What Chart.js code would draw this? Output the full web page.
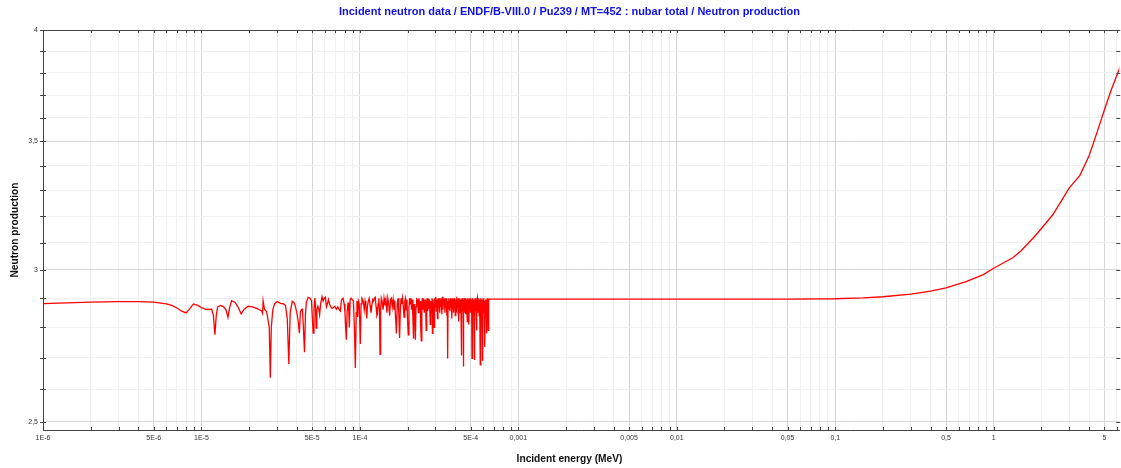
<!DOCTYPE html>
<html>
<head>
<meta charset="utf-8">
<script src="https://cdn.jsdelivr.net/npm/chart.js@4.4.1/dist/chart.umd.min.js"></script>
<style>
  html, body { margin: 0; padding: 0; background: #ffffff; }
  canvas { display: block; }
</style>
</head>
<body>
<canvas id="chart" width="1121" height="468"></canvas>
<script>
// ---- Text ----
const chartTitle = 'Incident neutron data / ENDF/B-VIII.0 / Pu239 / MT=452 : nubar total / Neutron production';
const xAxisTitle = 'Incident energy (MeV)';
const yAxisTitle = 'Neutron production';

// ---- Axis ticks ----
const xTickValues = [1e-6, 5e-6, 1e-5, 5e-5, 1e-4, 5e-4, 1e-3, 5e-3, 1e-2, 5e-2, 1e-1, 5e-1, 1, 5];
const xTickLabels = ['1E-6', '5E-6', '1E-5', '5E-5', '1E-4', '5E-4', '0,001', '0,005', '0,01', '0,05', '0,1', '0,5', '1', '5'];
const xMantissas = [1, 2, 3, 4, 5, 6, 7, 8, 9];
const xDecades = [-6, -5, -4, -3, -2, -1, 0];
const yTickValues = [2.5, 2.6, 2.7, 2.8, 2.9, 3.0, 3.1, 3.2, 3.3, 3.4, 3.5, 3.6, 3.7, 3.8, 3.9, 4.0];
const yLabelValues = [2.5, 3, 3.5, 4];
const yLabelTexts = ['2,5', '3', '3,5', '4'];

// ---- Series: incident energy (eV) and nubar total ----
const energyEV = [
  1.0, 2.0, 3.0, 4.0, 5.0, 6.0, 6.5, 7.0, 7.5, 8.0, 8.4, 8.9, 9.5, 10.0, 10.6, 11.0, 11.6, 11.9, 12.16, 12.4,
  12.65, 13.2, 13.8, 14.3, 14.7, 15.1, 15.5, 16.3, 17.0, 17.8, 18.6, 19.7, 21.0, 22.5, 24.0, 24.3, 24.5, 25.0, 25.8, 26.8,
  27.2, 27.6, 28.2, 28.9, 30.0, 31.5, 33.0, 33.9, 34.8, 35.6, 36.3, 37.4, 38.4, 39.2, 40.0, 40.8, 41.5, 42.1, 42.7, 43.4,
  44.0, 44.7, 45.3, 45.9, 47.1, 48.5, 49.5, 50.0, 50.7, 51.3, 51.9, 52.4, 52.9, 53.5, 54.3, 55.0, 55.7, 56.5, 57.7, 58.6,
  59.5, 60.5, 61.5, 62.3, 63.3, 64.2, 65.5, 66.7, 68.0, 69.5, 71.0, 72.5, 74.0, 75.3, 76.3, 77.1, 78.3, 79.5, 80.5, 81.3,
  82.1, 83.0, 84.2, 85.0, 85.8, 86.8, 88.0, 89.6, 91.0, 92.3, 93.6, 94.8, 95.8, 96.8, 97.8, 99.0, 100.6, 101.8, 103.0, 104.2,
  105.2, 106.5, 107.8, 109.0, 110.5, 111.5, 113.0, 114.5, 116.0, 117.5, 119.0, 120.5, 122.0, 123.5, 125.0, 126.5, 128.0, 129.0, 130.3, 131.6,
  133.0, 134.0, 135.2, 136.5, 138, 140, 142, 144, 146, 148, 150, 152, 154, 156, 158, 160, 162, 164, 166, 168,
  170, 172, 174, 176, 178, 180, 182, 184, 186, 188, 190, 192, 194, 196, 198, 200, 202, 204, 206, 208,
  210, 212, 214, 216, 218, 220, 222, 224, 226, 228, 230, 232, 234, 236, 238, 240, 242, 244, 246, 248,
  250, 252, 255, 258, 260, 262, 264, 266, 268, 270, 273, 275, 278, 280, 283, 285, 287, 289, 292, 294,
  296, 299, 301, 304, 306, 309, 311, 314, 316, 319, 321, 324, 326, 329, 331, 334, 336, 339, 341, 344,
  346, 349, 351, 354, 356, 358, 360, 363, 365, 368, 370, 373, 375, 378, 380, 383, 385, 388, 390, 393,
  395, 398, 400, 403, 405, 408, 410, 413, 415, 418, 420, 423, 425, 428, 430, 433, 435, 437, 439, 441,
  443, 446, 448, 450, 452, 455, 457, 460, 462, 465, 467, 470, 473, 476, 478, 481, 483, 486, 488, 491,
  493, 496, 498, 501, 504, 507, 510, 513, 516, 519, 522, 525, 528, 531, 534, 537, 540, 543, 545, 548,
  551, 554, 557, 560, 563, 566, 569, 572, 575, 578, 581, 584, 587, 590, 593, 595, 598, 601, 604, 607,
  610, 612, 615, 618, 621, 624, 627, 630, 633, 636, 639, 642, 645, 648, 651,
  1000, 1e4, 5e4, 1e5, 1.5e5, 2.0e5, 3.0e5, 4.0e5, 5.0e5, 6.7e5, 8.6e5, 1.0e6, 1.32e6, 1.49e6, 1.86e6, 2.36e6, 3.0e6, 3.5e6, 4.0e6, 4.5e6,
  5.0e6, 5.5e6, 6.3e6, 7.0e6
];
const nubar = [
  2.881, 2.886, 2.888, 2.888, 2.886, 2.880, 2.875, 2.866, 2.855, 2.849, 2.862, 2.880, 2.875, 2.867, 2.862, 2.861, 2.862, 2.840, 2.776, 2.840,
  2.870, 2.875, 2.870, 2.860, 2.834, 2.870, 2.891, 2.885, 2.870, 2.846, 2.862, 2.872, 2.870, 2.864, 2.856, 2.848, 2.890, 2.862, 2.853, 2.800,
  2.636, 2.800, 2.860, 2.880, 2.888, 2.882, 2.880, 2.875, 2.830, 2.680, 2.850, 2.889, 2.885, 2.870, 2.850, 2.820, 2.781, 2.850, 2.860, 2.862,
  2.800, 2.718, 2.840, 2.885, 2.903, 2.900, 2.890, 2.840, 2.781, 2.860, 2.900, 2.880, 2.798, 2.860, 2.872, 2.862, 2.843, 2.880, 2.905, 2.890,
  2.900, 2.903, 2.870, 2.880, 2.895, 2.880, 2.870, 2.865, 2.868, 2.872, 2.862, 2.870, 2.860, 2.855, 2.890, 2.897, 2.900, 2.880, 2.850, 2.800,
  2.759, 2.850, 2.885, 2.860, 2.800, 2.895, 2.900, 2.895, 2.890, 2.800, 2.667, 2.850, 2.890, 2.835, 2.890, 2.880, 2.745, 2.880, 2.900, 2.895,
  2.885, 2.860, 2.890, 2.875, 2.830, 2.870, 2.890, 2.900, 2.875, 2.850, 2.875, 2.895, 2.890, 2.900, 2.903, 2.870, 2.840, 2.845, 2.880, 2.900,
  2.860, 2.711, 2.860, 2.900, 2.890, 2.860, 2.900, 2.875, 2.895, 2.850, 2.900, 2.880, 2.840, 2.895, 2.900, 2.870, 2.895, 2.860, 2.890, 2.830,
  2.780, 2.880, 2.900, 2.850, 2.765, 2.860, 2.900, 2.880, 2.900, 2.870, 2.835, 2.890, 2.900, 2.860, 2.895, 2.820, 2.775, 2.870, 2.900, 2.880,
  2.900, 2.860, 2.895, 2.830, 2.762, 2.880, 2.850, 2.759, 2.870, 2.900, 2.880, 2.895, 2.850, 2.900, 2.870, 2.890, 2.800, 2.755, 2.880, 2.900,
  2.860, 2.900, 2.850, 2.895, 2.870, 2.790, 2.880, 2.900, 2.855, 2.900, 2.865, 2.895, 2.810, 2.890, 2.845, 2.900, 2.780, 2.895, 2.860, 2.800,
  2.900, 2.870, 2.905, 2.855, 2.895, 2.830, 2.900, 2.865, 2.900, 2.850, 2.895, 2.870, 2.900, 2.845, 2.905, 2.860, 2.895, 2.875, 2.900, 2.850,
  2.895, 2.865, 2.900, 2.840, 2.890, 2.698, 2.880, 2.900, 2.860, 2.895, 2.855, 2.900, 2.870, 2.895, 2.830, 2.900, 2.860, 2.895, 2.850, 2.900,
  2.875, 2.900, 2.840, 2.895, 2.860, 2.905, 2.855, 2.890, 2.870, 2.900, 2.820, 2.895, 2.860, 2.900, 2.850, 2.895, 2.840, 2.707, 2.880, 2.900,
  2.855, 2.895, 2.860, 2.672, 2.880, 2.900, 2.850, 2.895, 2.865, 2.900, 2.845, 2.895, 2.860, 2.820, 2.890, 2.900, 2.855, 2.895, 2.810, 2.900,
  2.860, 2.895, 2.850, 2.900, 2.870, 2.895, 2.698, 2.880, 2.900, 2.860, 2.895, 2.840, 2.693, 2.880, 2.900, 2.855, 2.895, 2.830, 2.790, 2.890,
  2.900, 2.850, 2.895, 2.860, 2.900, 2.840, 2.895, 2.855, 2.677, 2.870, 2.900, 2.845, 2.895, 2.830, 2.880, 2.690, 2.880, 2.900, 2.850, 2.895,
  2.830, 2.890, 2.735, 2.880, 2.895, 2.840, 2.890, 2.780, 2.880, 2.900, 2.830, 2.890, 2.790, 2.880, 2.897,
  2.897, 2.897, 2.897, 2.898, 2.901, 2.905, 2.914, 2.925, 2.936, 2.958, 2.983, 3.006, 3.044, 3.070, 3.130, 3.205, 3.310, 3.360, 3.440, 3.540,
  3.635, 3.720, 3.830, 3.930
];

const points = energyEV.map((e, i) => ({ x: e * 1e-6, y: nubar[i] }));

function sameVal(a, b) { return Math.abs(a / b - 1) < 1e-6; }
function xLabelFor(v) {
  const i = xTickValues.findIndex(t => sameVal(t, v));
  return i >= 0 ? xTickLabels[i] : '';
}
function yLabelFor(v) {
  const i = yLabelValues.findIndex(t => sameVal(t, v));
  return i >= 0 ? yLabelTexts[i] : '';
}
const X_MAX = 6.2;
const xAllTicks = [];
xDecades.forEach(d => xMantissas.forEach(m => {
  const v = m * Math.pow(10, d);
  if (v <= X_MAX * 1.0000001) xAllTicks.push(v);
}));

const tickFont = { family: 'Liberation Sans, Arial, sans-serif', size: 7 };

const decorPlugin = {
  id: 'decor',
  afterDatasetsDraw(chart) {
    const { ctx, chartArea: a, scales } = chart;
    ctx.save();
    ctx.strokeStyle = '#444';
    ctx.lineWidth = 1;
    // top and right frame lines
    ctx.beginPath();
    ctx.moveTo(a.left, a.top + 0.5); ctx.lineTo(a.right, a.top + 0.5);
    ctx.stroke();
    // tick marks
    ctx.beginPath();
    scales.x.ticks.forEach(t => {
      const px = Math.round(scales.x.getPixelForValue(t.value)) + 0.5;
      ctx.moveTo(px, a.bottom - 3); ctx.lineTo(px, a.bottom);
      ctx.moveTo(px, a.top); ctx.lineTo(px, a.top + 3);
    });
    scales.y.ticks.forEach(t => {
      const py = Math.round(scales.y.getPixelForValue(t.value)) + 0.5;
      ctx.moveTo(a.left - 3, py); ctx.lineTo(a.left + 3, py);
      ctx.moveTo(a.right - 3, py); ctx.lineTo(a.right + 1, py);
    });
    ctx.stroke();
    ctx.restore();
  },
  afterDraw(chart) {
    const { ctx } = chart;
    ctx.save();
    ctx.textAlign = 'center';
    ctx.textBaseline = 'middle';
    ctx.fillStyle = '#1010e0';
    ctx.font = 'bold 11px "Liberation Sans", Arial, sans-serif';
    ctx.fillText(chartTitle, 569.5, 12);
    ctx.fillStyle = '#111';
    ctx.font = 'bold 10.2px "Liberation Sans", Arial, sans-serif';
    ctx.fillText(xAxisTitle, 569.5, 459);
    ctx.translate(15, 230);
    ctx.rotate(-Math.PI / 2);
    ctx.fillText(yAxisTitle, 0, 0);
    ctx.restore();
  }
};

new Chart(document.getElementById('chart'), {
  type: 'line',
  data: {
    datasets: [{
      data: points,
      borderColor: '#ff0000',
      borderWidth: 1.3,
      pointRadius: 0,
      tension: 0,
      fill: false
    }]
  },
  options: {
    responsive: false,
    devicePixelRatio: 1,
    animation: false,
    parsing: true,
    layout: { padding: { top: 30, right: 1, left: 0, bottom: 0 } },
    plugins: { legend: { display: false }, title: { display: false }, tooltip: { enabled: false } },
    scales: {
      x: {
        type: 'logarithmic',
        min: 1e-6,
        max: X_MAX,
        bounds: 'data',
        afterBuildTicks: s => { s.ticks = xAllTicks.map(v => ({ value: v })); },
        afterFit: s => { s.height = 38; },
        grid: {
          drawTicks: false,
          color: c => (xLabelFor(c.tick.value) ? '#d6d6d6' : '#f0f0f0'),
          lineWidth: 1
        },
        border: { display: true, color: '#444', width: 1 },
        ticks: {
          autoSkip: false, maxRotation: 0, minRotation: 0, padding: 4,
          color: '#333', font: tickFont,
          callback: v => xLabelFor(v)
        }
      },
      y: {
        type: 'logarithmic',
        min: 2.476,
        max: 4,
        bounds: 'data',
        afterBuildTicks: s => { s.ticks = yTickValues.map(v => ({ value: v })); },
        afterFit: s => { s.width = 43; },
        grid: {
          drawTicks: false,
          color: c => (yLabelFor(c.tick.value) ? '#d6d6d6' : '#f0f0f0'),
          lineWidth: 1
        },
        border: { display: true, color: '#444', width: 1 },
        ticks: {
          autoSkip: false, padding: 5,
          color: '#333', font: tickFont,
          callback: v => yLabelFor(v)
        }
      }
    }
  },
  plugins: [decorPlugin]
});
</script>
</body>
</html>
